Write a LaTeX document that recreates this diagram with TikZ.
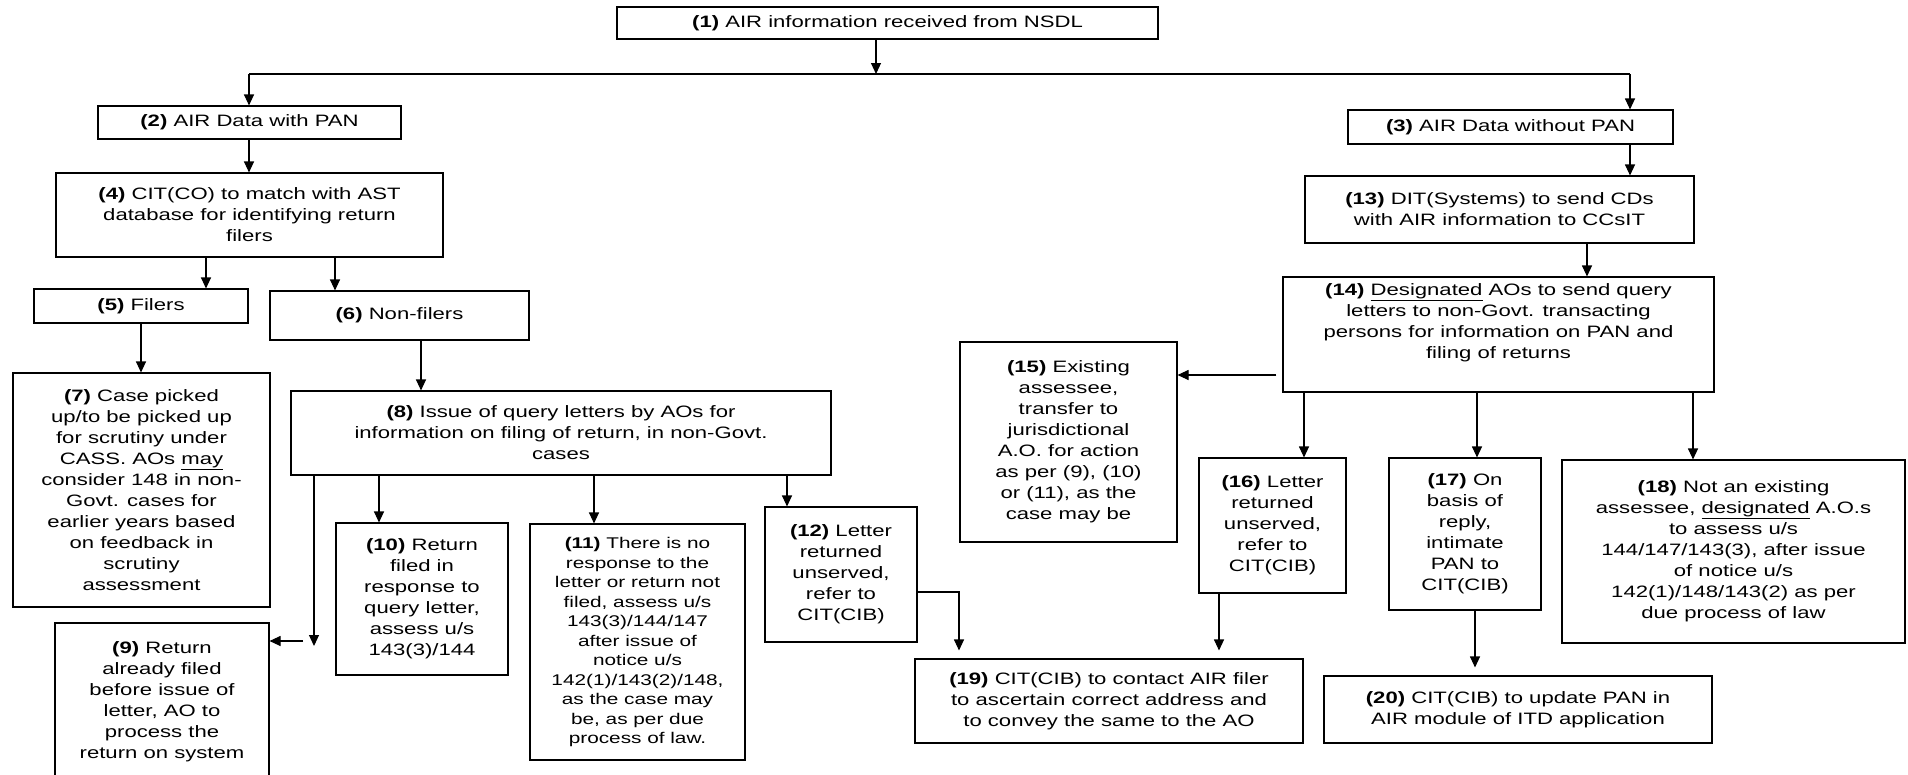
\documentclass[tikz,border=0pt]{standalone}
\usepackage{fontspec}
\setmainfont{Liberation Sans}[FakeStretch=1.34]
\usetikzlibrary{arrows.meta}
\begin{document}
\begin{tikzpicture}[x=1pt,y=-1pt,
  bx/.style={draw, line width=1.1pt, inner sep=0pt, align=center, font=\fontsize{16.5}{21}\selectfont},
  bxs/.style={bx, font=\fontsize{15.5}{19.5}\selectfont},
  arr/.style={line width=1.1pt, -{Triangle[length=11pt,width=10pt]}},
  ln/.style={line width=1.1pt}]
\useasboundingbox (0,0) rectangle (1908,774);

% nodes
\node[bx, minimum width=541, minimum height=32] (n1) at (887.5,23) {\textbf{(1)} AIR information received from NSDL};
\node[bx, minimum width=303, minimum height=33] (n2) at (249.5,122.5) {\textbf{(2)} AIR Data with PAN};
\node[bx, minimum width=325, minimum height=34] (n3) at (1510.5,127) {\textbf{(3)} AIR Data without PAN};
\node[bx, minimum width=387, minimum height=84] (n4) at (249.5,215) {\textbf{(4)} CIT(CO) to match with AST\\database for identifying return\\filers};
\node[bx, minimum width=214, minimum height=34] (n5) at (141,306) {\textbf{(5)} Filers};
\node[bx, minimum width=259, minimum height=49] (n6) at (399.5,315.5) {\textbf{(6)} Non-filers};
\node[bx, minimum width=257, minimum height=234] (n7) at (141.5,490) {\textbf{(7)} Case picked\\up/to be picked up\\for scrutiny under\\CASS. AOs \underline{may}\\consider 148 in non-\\Govt. cases for\\earlier years based\\on feedback in\\scrutiny\\assessment};
\node[bx, minimum width=540, minimum height=84] (n8) at (561,433) {\textbf{(8)} Issue of query letters by AOs for\\information on filing of return, in non-Govt.\\cases};
\node[bx, minimum width=214, minimum height=157] (n9) at (162,701.5) {\textbf{(9)} Return\\already filed\\before issue of\\letter, AO to\\process the\\return on system};
\node[bx, minimum width=172, minimum height=152] (n10) at (422,599) {\textbf{(10)} Return\\filed in\\response to\\query letter,\\assess u/s\\143(3)/144};
\node[bxs, minimum width=215, minimum height=236] (n11) at (637.5,642) {\textbf{(11)} There is no\\response to the\\letter or return not\\filed, assess u/s\\143(3)/144/147\\after issue of\\notice u/s\\142(1)/143(2)/148,\\as the case may\\be, as per due\\process of law.};
\node[bx, minimum width=152, minimum height=135] (n12) at (841,574.5) {\textbf{(12)} Letter\\returned\\unserved,\\refer to\\CIT(CIB)};
\node[bx, minimum width=389, minimum height=67] (n13) at (1499.5,209.5) {\textbf{(13)} DIT(Systems) to send CDs\\with AIR information to CCsIT};
\node[bx, minimum width=431, minimum height=115] (n14) at (1498.5,334.5) {\textbf{(14)} \underline{Designated} AOs to send query\\letters to non-Govt. transacting\\persons for information on PAN and\\filing of returns\\[6pt]};
\node[bx, minimum width=217, minimum height=200] (n15) at (1068.5,442) {\textbf{(15)} Existing\\assessee,\\transfer to\\jurisdictional\\A.O. for action\\as per (9), (10)\\or (11), as the\\case may be};
\node[bx, minimum width=147, minimum height=135] (n16) at (1272.5,525.5) {\textbf{(16)} Letter\\returned\\unserved,\\refer to\\CIT(CIB)};
\node[bx, minimum width=152, minimum height=152] (n17) at (1465,534) {\textbf{(17)} On\\basis of\\reply,\\intimate\\PAN to\\CIT(CIB)};
\node[bx, minimum width=343, minimum height=183] (n18) at (1733.5,551.5) {\textbf{(18)} Not an existing\\assessee, \underline{designated} A.O.s\\to assess u/s\\144/147/143(3), after issue\\of notice u/s\\142(1)/148/143(2) as per\\due process of law};
\node[bx, minimum width=388, minimum height=84] (n19) at (1109,701) {\textbf{(19)} CIT(CIB) to contact AIR filer\\to ascertain correct address and\\to convey the same to the AO};
\node[bx, minimum width=388, minimum height=67] (n20) at (1518,709.5) {\textbf{(20)} CIT(CIB) to update PAN in\\AIR module of ITD application};

% helper coordinates
\coordinate (jL) at (249,74);
\coordinate (jM) at (876,74);
\coordinate (jR) at (1630,74);
\coordinate (x45) at (206,0);
\coordinate (x46) at (335,0);
\coordinate (x68) at (421,0);
\coordinate (c89) at (314,646);
\coordinate (c9a) at (303,641);
\coordinate (x810) at (379,0);
\coordinate (x811) at (594,0);
\coordinate (x812) at (787,0);
\coordinate (c12) at (959,592);
\coordinate (x313) at (1630,0);
\coordinate (x1314) at (1587,0);
\coordinate (y1415) at (0,375);
\coordinate (x1416) at (1304,0);
\coordinate (x1417) at (1477,0);
\coordinate (x1418) at (1693,0);
\coordinate (x1619) at (1219,0);
\coordinate (x1720) at (1475,0);

% connectors
\draw[arr] (n1.south -| jM) -- (jM);
\draw[ln] (jL) -- (jR);
\draw[arr] (jL) -- (jL |- n2.north);
\draw[arr] (jR) -- (jR |- n3.north);
\draw[arr] (n2.south -| jL) -- (n4.north -| jL);
\draw[arr] (n4.south -| x45) -- (n5.north -| x45);
\draw[arr] (n4.south -| x46) -- (n6.north -| x46);
\draw[arr] (n5.south) -- (n5.south |- n7.north);
\draw[arr] (n6.south -| x68) -- (n8.north -| x68);
\draw[arr] (n8.south -| c89) -- (c89);
\draw[arr] (c9a) -- (c9a -| n9.east);
\draw[arr] (n8.south -| x810) -- (n10.north -| x810);
\draw[arr] (n8.south -| x811) -- (n11.north -| x811);
\draw[arr] (n8.south -| x812) -- (n12.north -| x812);
\draw[arr, shorten >=8pt] (n12.east |- c12) -| (n19.north -| c12);
\draw[arr] (n3.south -| x313) -- (n13.north -| x313);
\draw[arr] (n13.south -| x1314) -- (n14.north -| x1314);
\draw[arr, shorten <=6pt] (n14.west |- y1415) -- (n15.east |- y1415);
\draw[arr] (n14.south -| x1416) -- (n16.north -| x1416);
\draw[arr] (n14.south -| x1417) -- (n17.north -| x1417);
\draw[arr] (n14.south -| x1418) -- (n18.north -| x1418);
\draw[arr, shorten >=8pt] (n16.south -| x1619) -- (n19.north -| x1619);
\draw[arr, shorten >=8pt] (n17.south -| x1720) -- (n20.north -| x1720);
\end{tikzpicture}
\end{document}
